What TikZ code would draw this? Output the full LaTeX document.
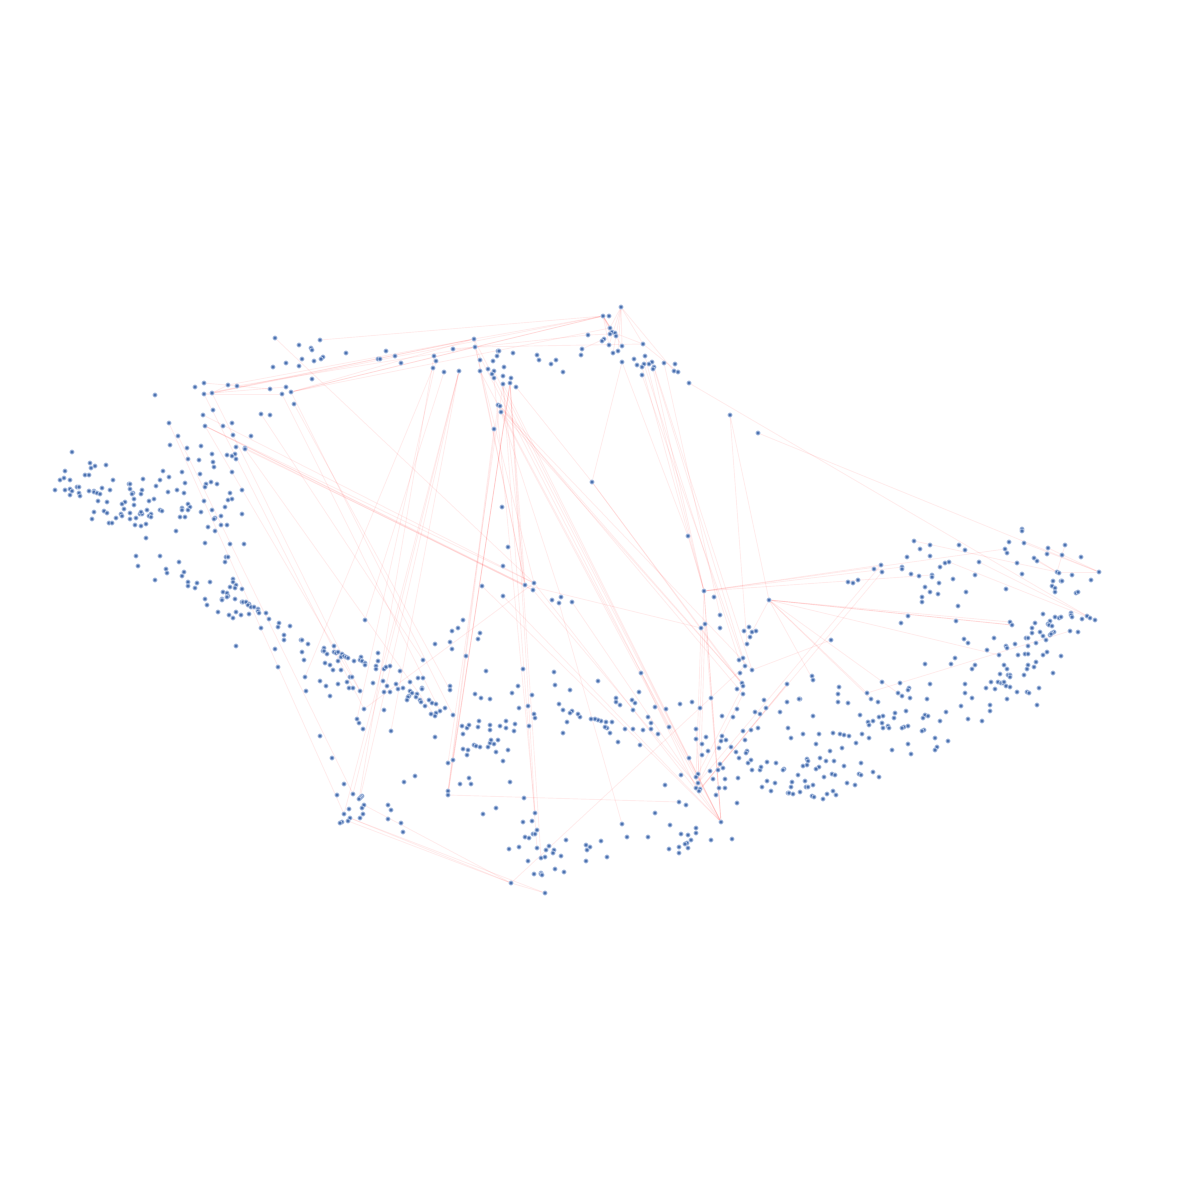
\documentclass[tikz,border=0pt]{standalone}
\usetikzlibrary{backgrounds}
\definecolor{dotblue}{HTML}{4C72B0}
\definecolor{dotedge}{HTML}{B4C5E4}
\tikzset{
  pt/.style={circle,inner sep=0pt,minimum size=2.1pt,fill=dotblue,draw=dotedge,line width=0.4pt},
  link/.style={draw=red,opacity=0.07,line width=0.45pt},
  linkb/.style={draw=red,opacity=0.08,line width=0.45pt}
}
\begin{document}
\begin{tikzpicture}[x=0.5pt,y=-0.5pt]
\useasboundingbox (0,0) rectangle (1200,1200);
\foreach \x/\y in {
275/338,299/345,320/340,311/348,312/350,323/357,321/359,302/359,314/361,286/363,299/366,273/367,346/353,386/351,378/359,380/359,395/356,401/363,312/379,204/383,195/387,228/385,237/386,270/389,286/387,291/392,282/394,204/394,212/393,294/404,155/395,213/410,203/415,261/414,270/415,169/423,205/426,223/426,232/423,178/436,233/435,251/436,170/445,187/448,201/446,236/447,245/448,245/449,72/452,212/454,227/455,235/454,232/456,188/459,199/460,236/459,213/462,90/463,95/466,106/465,91/468,214/467,65/471,163/471,182/472,232/472,85/475,89/475,200/474,64/478,60/480,70/480,113/480,143/479,160/480,169/477,185/483,206/484,211/482,217/484,129/484,130/484,156/486,205/487,77/487,79/487,102/488,55/490,65/490,70/489,72/491,89/491,94/491,94/492,97/493,100/494,110/490,130/489,142/490,133/493,132/494,141/494,168/492,177/490,184/493,230/493,242/490,79/493,70/495,80/496,134/499,154/499,149/501,204/501,228/500,232/499,98/501,107/502,125/502,122/504,134/505,188/504,190/507,182/508,182/510,188/510,225/507,124/509,147/510,160/510,162/511,212/510,201/512,94/512,104/511,107/513,121/514,130/513,140/514,142/514,141/512,151/514,149/516,151/517,221/516,242/514,122/516,116/518,92/519,130/519,136/518,180/517,185/517,215/518,214/519,109/523,112/523,135/525,141/526,146/524,208/527,221/525,227/525,176/531,215/531,146/538,205/543,230/544,244/544,136/556,160/556,226/557,228/557,179/562,225/562,138/566,166/569,167/573,184/572,182/576,155/580,188/582,197/583,210/582,233/579,233/582,188/586,195/588,230/587,236/585,235/588,242/589,223/592,227/593,228/596,227/597,205/599,222/599,235/599,
621/307,603/316,609/316,610/328,612/332,615/333,610/334,616/336,588/335,604/339,602/341,609/345,622/346,582/349,618/351,613/353,643/344,581/355,622/362,645/356,634/359,652/362,649/364,644/364,637/365,642/367,654/367,653/369,664/363,675/364,674/371,678/372,642/375,689/383,730/415,758/433,474/339,475/347,453/349,434/356,436/361,433/368,444/372,459/371,480/360,480/371,488/369,493/361,497/356,498/351,499/351,513/353,504/367,494/371,492/374,494/378,503/376,511/378,503/384,510/383,516/387,537/355,539/360,551/364,556/360,563/372,498/405,500/406,501/412,494/429,592/482,502/507,508/547,688/536,503/566,482/586,525/585,534/583,533/590,503/596,704/591,714/597,769/600,552/600,561/597,559/603,572/602,
1022/529,1022/531,1009/542,1024/543,1065/545,1048/548,1005/549,1007/553,1047/554,1062/555,1034/558,1081/557,1037/561,1017/563,979/562,959/545,965/550,914/541,930/545,920/549,930/556,907/557,881/565,874/569,882/572,902/567,902/569,911/574,919/576,932/575,932/577,940/567,945/563,949/562,953/579,975/575,1022/574,1057/572,1059/573,1072/575,1099/572,1053/581,1061/581,1062/581,1091/580,1052/586,1055/588,1055/592,1076/593,1078/592,848/582,853/583,858/580,925/587,939/583,930/592,938/594,966/592,1006/589,922/597,922/602,958/606,908/616,901/623,956/621,1043/614,1055/617,1059/618,1061/617,1071/613,1071/615,1072/617,1082/619,1087/616,1090/618,1095/620,1010/622,1012/625,1035/623,1050/621,1048/624,1049/625,1052/626,1032/628,1032/633,1040/632,1054/632,1052/633,1050/635,1051/634,1043/636,1070/631,1078/632,994/638,964/639,968/643,1026/638,1028/638,1046/640,1036/643,1015/644,1006/646,1007/648,1028/646,987/650,1047/652,1043/655,999/655,1018/655,1025/654,1028/654,1061/656,955/658,925/664,951/664,1036/662,1028/665,1034/667,1004/665,975/665,972/669,1007/669,1027/669,1000/674,1008/675,1010/675,1010/677,1024/675,1053/673,831/640,812/676,813/680,991/682,998/682,1001/683,1003/683,1004/682,882/682,900/683,930/684,965/684,1006/686,1010/687,986/688,995/689,1039/688,909/688,908/690,1017/692,1027/692,1029/693,839/687,867/693,898/693,838/694,965/693,902/696,910/698,871/699,927/699,972/698,1007/699,838/702,848/703,878/702,990/705,1037/705,961/706,800/699,906/711,946/712,990/711,895/713,860/715,813/716,883/716,879/717,925/715,928/716,923/718,894/718,968/719,982/721,868/722,873/721,940/721,882/723,869/725,888/726,889/728,883/728,904/727,902/728,908/726,924/730,922/731,803/734,819/734,833/733,840/734,844/735,849/736,862/734,869/738,935/738,948/741,816/744,856/743,908/744,937/747,935/750,842/748,892/750,911/754,830/751,820/758,807/759,808/761,826/761,834/761,861/763,803/766,807/765,819/767,816/769,844/766,873/772,832/774,835/775,859/774,861/775,824/777,879/777,847/783,805/781,813/785,806/787,808/787,855/785,833/791,827/794,836/795,812/796,814/797,823/799,800/792,
207/605,222/600,218/612,229/615,233/618,236/612,241/615,242/602,243/602,246/602,249/604,248/605,251/607,254/607,258/609,258/611,259/613,249/614,266/613,269/619,261/628,279/623,278/627,290/626,284/635,284/640,301/640,302/640,308/644,236/646,275/649,302/652,304/660,278/667,324/648,323/651,324/651,327/654,334/646,334/652,336/653,338/652,342/654,341/657,344/656,346/657,348/658,354/661,361/657,360/660,362/661,365/663,365/665,338/661,325/663,330/665,333/670,341/670,305/677,306/691,320/681,326/686,330/696,338/684,347/682,350/677,352/677,349/688,353/688,360/691,365/620,378/653,378/661,376/666,376/669,384/669,386/667,390/666,400/671,373/683,383/681,387/686,396/684,398/689,403/688,384/692,390/692,410/682,410/691,412/693,409/696,408/697,407/700,417/694,416/697,418/678,423/678,422/688,422/689,420/700,421/702,429/700,432/703,436/704,425/706,440/711,436/713,435/716,431/714,445/708,453/715,364/709,384/710,357/719,359/723,363/729,391/731,320/736,435/737,332/758,435/644,423/660,450/642,452/649,452/631,458/628,463/620,480/633,478/639,466/656,486/671,450/686,450/690,475/694,481/698,490/699,462/726,467/728,469/725,478/727,479/721,490/725,490/730,500/726,463/734,474/745,476/746,480/747,488/747,490/743,491/740,494/744,498/740,463/749,468/750,467/755,496/752,448/763,453/760,469/778,471/784,460/784,415/776,404/782,344/784,337/795,353/794,448/791,448/795,362/796,361/797,360/798,359/799,364/805,362/808,349/809,344/814,363/814,360/818,350/818,348/821,342/822,340/823,388/805,391/810,388/819,401/823,403/832,483/814,496/808,
720/615,705/624,701/628,720/628,744/631,749/627,752/632,756/631,750/637,747/644,743/658,739/660,745/666,752/670,740/673,742/683,743/686,737/689,743/694,787/684,764/700,787/702,766/708,799/699,780/712,755/712,760/714,737/709,733/717,722/716,711/698,692/702,680/704,700/708,666/709,655/707,641/673,639/692,616/698,616/702,620/705,632/700,635/703,633/710,648/717,651/723,651/729,658/734,669/727,625/729,633/729,643/730,640/745,618/742,610/733,607/728,605/727,612/722,606/722,601/721,598/720,595/719,591/719,580/717,578/714,572/711,570/713,563/710,559/704,567/722,563/733,570/690,555/685,554/672,598/681,523/669,518/686,512/693,532/695,528/706,519/708,534/714,535/718,506/721,515/724,529/726,506/728,514/731,508/750,503/761,510/782,524/798,535/813,523/822,532/821,537/830,533/834,535/834,525/837,529/838,509/849,519/847,537/848,549/846,546/850,554/850,553/853,561/856,541/858,545/857,528/861,555/869,564/872,534/874,541/873,541/874,542/875,511/883,545/893,566/840,586/845,587/850,590/847,601/841,586/861,607/857,622/824,627/837,648/837,655/813,670/825,681/834,688/835,696/828,696/833,691/840,687/843,685/844,679/847,688/848,669/849,679/853,711/840,732/839,721/822,679/802,686/805,737/803,716/795,665/785,681/775,689/758,698/774,696/777,698/783,696/788,700/789,699/791,710/771,718/770,723/768,720/764,713/779,725/779,719/788,725/788,696/729,696/739,706/737,702/744,708/751,702/755,722/736,721/741,726/740,719/748,731/747,736/752,739/758,743/731,751/730,758/728,745/740,747/751,746/753,751/760,748/763,752/770,760/770,761/767,767/762,776/763,738/778,784/769,783/770,767/781,775/783,762/787,771/791,792/782,791/787,798/775,788/793,789/793,793/794,788/728,791/738%
} \node[pt] (n\x-\y) at (\x,\y) {};
\begin{scope}[on background layer]
\foreach \a/\b/\c/\d in {
320/340/603/316,212/393/474/339,212/393/603/316,228/385/474/339,237/386/475/347,204/394/474/339,291/392/603/316,291/392/475/347,291/392/474/339,291/392/610/328,204/383/270/389,204/394/282/394,212/393/286/387,212/393/228/385,453/349/475/347,474/339/603/316,475/347/603/316,475/347/588/335,475/347/643/344,588/335/610/334,603/316/610/334,603/316/622/346,603/316/616/336,603/316/609/345,621/307/610/328,621/307/609/345,621/307/613/353,621/307/618/351,621/307/622/346,621/307/643/344,621/307/674/371,582/349/604/339,612/332/643/344,643/344/678/372,603/316/612/332,
622/362/592/482,516/387/592/482,592/482/743/686,592/482/742/683,622/362/688/536,688/536/704/591,645/356/704/591,642/367/704/591,653/369/704/591,652/362/743/658,642/375/745/666,654/367/752/670,644/364/739/660,664/363/720/615,730/415/769/600,730/415/747/644,689/383/1087/616,758/433/1099/572,979/562/1087/616,949/562/1090/618,914/541/1057/572,1005/549/704/591,881/565/704/591,902/567/704/591,932/575/704/591,1057/572/1034/558,1057/572/1065/545,1057/572/1037/561,1057/572/1099/572,1048/548/1099/572,1024/543/1099/572,1012/625/769/600,1010/622/769/600,999/655/769/600,867/693/1070/631,769/600/867/693,769/600/898/693,769/600/871/699,882/572/700/789,881/565/698/783,831/640/752/670,769/600/752/632,769/600/813/680,704/591/698/783,704/591/721/822,705/624/721/822,705/624/700/789,701/628/696/777,
511/883/745/666,511/883/348/821,511/883/350/818,511/883/364/805,511/883/545/893,350/818/545/893,448/795/679/802,700/789/787/684,699/791/787/684,698/774/743/686,696/788/743/694,696/729/700/789,501/412/742/683,500/406/743/694,480/371/721/822,503/384/721/822,641/673/696/788,494/371/721/822,475/347/669/727,474/339/721/822,475/347/534/583,474/339/525/585,480/371/525/585,503/384/525/585,510/383/525/585,525/585/701/628,510/383/541/858,503/384/537/848,510/383/535/813,494/378/535/813,511/378/448/791,510/383/448/795,510/383/453/760,503/384/448/763,494/429/448/791,498/405/448/795,482/586/721/822,559/603/622/824,572/602/721/822,503/596/721/822,533/590/700/789,501/412/698/783,498/405/742/683,500/406/752/670,501/412/561/597,534/583/721/822,
275/338/534/583,205/426/534/583,205/426/525/585,203/415/534/583,245/449/525/585,245/448/533/590,205/426/533/590,204/394/364/709,212/393/360/691,205/426/360/691,169/423/344/814,178/436/353/794,245/449/435/716,261/414/423/660,282/394/440/711,291/392/453/715,294/404/450/690,534/583/364/709,459/371/391/731,459/371/353/794,459/371/344/814,459/371/360/798,444/372/365/620,434/356/359/799,436/361/357/719,433/368/305/677%
} \draw[link] (n\a-\b) -- (n\c-\d);
\foreach \a/\b/\c/\d in {
1012/625/769/600,704/591/721/822,603/316/612/332%
} \draw[linkb] (n\a-\b) -- (n\c-\d);
\end{scope}
\end{tikzpicture}
\end{document}
